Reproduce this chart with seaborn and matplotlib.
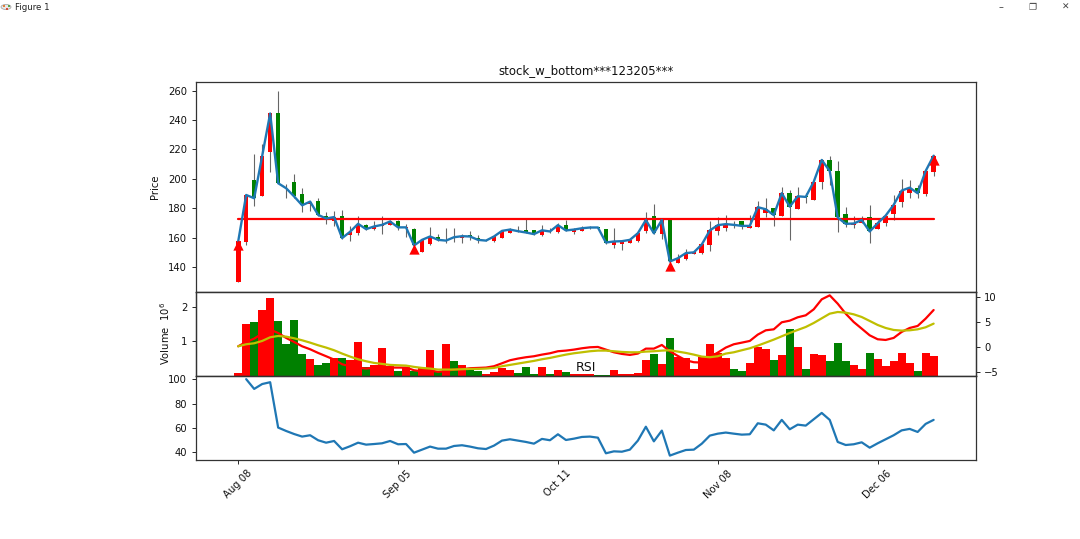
import numpy as np
import matplotlib
matplotlib.use("Agg")
import matplotlib.pyplot as plt
from matplotlib.patches import Circle, Rectangle
import seaborn as sns

title = "stock_w_bottom***123205***"
tick_positions = [0, 20, 40, 60, 80]
tick_labels = ["Aug 08", "Sep 05", "Oct 11", "Nov 08", "Dec 06"]

opens = [130,157,199,188.6,218,244.4,194,197.9,189.5,182.7,185,174.8,171.2,175,161.5,163,168.5,166,168,168.7,
         171.6,166.4,166,150.2,156,160.3,158,160,160,161.5,160,158,157.4,160.1,163,164.7,165,165,162,164.7,
         163.8,168.5,164,164.6,166.4,167.3,166.2,154.7,156,156.3,157.4,164.2,174.8,162.6,172,143,145.2,149,149.5,155.2,
         164.7,166.7,169.5,171.2,166.4,167.1,177,180.2,174.4,190.2,179.8,188.5,185.6,197.6,212.6,205.3,176.2,168.5,169.8,174.1,
         166,170.3,176.2,184.3,190.6,194,189.8,204.9]
closes = [157.4,189,186.8,215.5,244.4,197,193.6,188,182,184.5,175.5,173,174,159.7,164,169.4,165.8,167.6,168.7,171,
          167,167,154.7,158.5,160.8,158.5,158,160.3,161,160.8,158.5,158,160.8,164.6,165.5,164.4,163.5,162.4,165,164.2,
          168.5,164.9,165.5,166.4,166.9,166.9,156.7,157.4,157.6,158.5,163,172,163,172,143.8,146,149.5,150,155.4,164.9,
          168.5,169.2,168.7,168,168,180.7,179.3,175.3,190.2,181.1,188.1,187.7,198,212.8,205.3,173.7,169.4,169.6,172,164.2,
          169.8,175,182.3,192,194,190.2,205.3,215.7]
highs = [157.4,189,216.8,223.4,244.4,259.5,196.3,203,193.6,184.5,186.8,177.7,178.2,178.9,168.2,174.8,169.5,171.6,174.8,172,
         172,169.4,166.9,159,167,162.4,166.4,166.4,162.6,164.2,161.9,158.5,161,165.5,166.4,167.6,172.5,165,168.7,166.4,
         169.8,172,166.4,168.2,168.2,167.3,166.2,166.4,158.5,159,163.7,177.7,182.9,173,172,149,152.2,150.5,156.3,171.4,
         173.9,175.5,171.6,171.2,175.5,185.2,187,180.2,194.2,192.4,194.2,190.6,198,213.7,215.5,212.3,181.1,174.4,175,182.3,
         172,175.5,189,199.9,199.2,195.5,206,216]
lows = [130,155,181.6,188.6,204.4,197,186.8,187.2,177.3,178.4,175,169.4,167.6,159.2,158,162,165.4,165,162.6,168.4,
        165.4,160.3,154.7,150.2,155,157.8,156.7,157,156.3,158.2,156.3,157.4,157.2,160,163,163.9,163,161.7,161.2,163,
        163,164.2,162.8,164.2,166,166,155.8,153.3,151.8,156.3,157,163.5,162.4,159.2,143,142.8,144.5,148.8,149,151,
        161.5,164.6,166.4,166,166.4,167.1,173.9,168,174.4,158.5,179.8,183.8,185.6,192.8,195.6,164,167.2,166.4,169.8,156.3,
        166,167.6,172,180.5,186.8,186.8,188.4,201.9]
volumes = [0.07,1.52,1.56,1.92,2.27,1.61,0.93,1.64,0.62,0.48,0.31,0.36,0.51,0.50,0.46,0.98,0.26,0.32,0.81,0.29,
           0.14,0.24,0.12,0.22,0.74,0.09,0.94,0.44,0.31,0.17,0.12,0.04,0.09,0.22,0.17,0.07,0.24,0.05,0.26,0.04,
           0.17,0.11,0.05,0.05,0.03,0.01,0.01,0.17,0.05,0.03,0.07,0.46,0.64,0.34,1.09,0.55,0.50,0.20,0.53,0.94,
           0.66,0.52,0.19,0.14,0.36,0.85,0.79,0.46,0.60,1.38,0.85,0.20,0.64,0.60,0.44,0.96,0.44,0.31,0.19,0.66,
           0.48,0.27,0.44,0.66,0.37,0.14,0.67,0.57]
green_volume_days = [2,5,6,7,8,10,11,13,16,20,22,25,27,29,30,35,36,37,39,41,45,46,52,54,62,63,67,69,71,74,75,76,79,85]
macd = [0.13,1.0,1.68,2.69,3.5,2.82,1.82,1.0,0.13,-0.47,-1.21,-1.88,-2.56,-3.5,-3.9,-4.17,-4.37,-4.17,-4.17,-4.17,
        -4.17,-4.17,-4.71,-4.91,-4.71,-5.04,-4.84,-4.57,-4.5,-4.3,-4.24,-4.17,-3.9,-3.3,-2.69,-2.35,-2.08,-1.88,-1.55,-1.28,
        -0.87,-0.74,-0.54,-0.27,-0.07,0,-0.54,-1.08,-1.41,-1.61,-1.34,-0.34,-0.34,0.4,-0.87,-1.82,-2.69,-3.09,-3.16,-2.02,
        -1.14,-0.13,0.54,0.87,1.21,2.49,3.36,3.56,4.98,5.31,5.99,6.39,7.6,9.62,10.42,8.74,6.72,5.04,3.7,2.35,
        1.55,1.41,1.82,3.03,3.83,4.24,5.72,7.46]
signal = [0.13,0.54,0.74,1.21,1.95,2.22,2.08,1.75,1.34,0.87,0.34,-0.13,-0.67,-1.34,-1.95,-2.49,-2.89,-3.23,-3.43,-3.63,
          -3.7,-3.77,-4.03,-4.24,-4.37,-4.57,-4.57,-4.57,-4.5,-4.44,-4.44,-4.37,-4.24,-3.9,-3.63,-3.36,-3.09,-2.82,-2.49,-2.22,
          -1.88,-1.55,-1.28,-1.08,-0.87,-0.74,-0.74,-0.87,-1.01,-1.08,-1.08,-0.94,-0.87,-0.74,-0.67,-0.94,-1.21,-1.55,-1.95,-2.08,
          -1.88,-1.34,-1.08,-0.67,-0.27,0.27,0.87,1.48,2.15,2.82,3.43,4.03,4.84,5.78,6.72,7.06,6.93,6.59,6.05,5.25,
          4.44,3.83,3.43,3.3,3.36,3.56,3.97,4.71]
rsi = [100,92,96,97.5,60.3,57.5,55,52.9,54,49.9,47.9,49.3,42.5,45,47.9,46.3,46.8,47.4,49.3,46.6,
       46.8,39.7,42.2,44.7,43,43,45.2,45.8,44.7,43.3,42.7,45.5,49.6,50.7,49.6,48.5,47.1,51,49.9,54.8,
       50.1,51.2,52.6,52.9,52,39.2,40.8,40.5,42.2,49.6,61,49,57.8,37.3,39.7,41.9,42.2,47.1,53.7,55.3,
       56.2,55.3,54.5,54.8,63.8,62.7,58,66.6,58.9,62.7,61.9,67.1,72.3,66.6,48.5,46,46.6,48.2,43.8,47.4,
       50.7,54,58,59.2,56.7,63.3,66.6]
support_level = 172.8
signal_days = [0, 22, 54, 87]
signal_prices = [155, 152.4, 141, 213]

W, H = 1080, 539
LEFT, RIGHT = 195.5 / W, 976 / W


def axes_box(top, bottom):
    return [LEFT, 1 - bottom / H, RIGHT - LEFT, (bottom - top) / H]


sns.set_theme(style="ticks", rc={"axes.linewidth": 0.9, "axes.edgecolor": "#333333",
                                 "xtick.major.width": 0.7, "ytick.major.width": 0.7,
                                 "xtick.major.size": 3, "ytick.major.size": 3,
                                 "text.color": "#111111", "xtick.labelcolor": "#111111",
                                 "ytick.labelcolor": "#111111", "axes.labelcolor": "#111111"})
plt.rcParams["font.family"] = ["DejaVu Sans"]
FS = 7.2
OLIVE = "#bfbf00"

fig = plt.figure(figsize=(W / 100, H / 100), dpi=100)
ax1 = fig.add_axes(axes_box(82, 291.5))
ax2 = fig.add_axes(axes_box(291.5, 375.5), sharex=ax1)
ax3 = fig.add_axes(axes_box(375.5, 460), sharex=ax1)
ax2b = ax2.twinx()

days = np.arange(len(closes))

# price panel
op, cl = np.array(opens), np.array(closes)
candle_colors = ["red" if c >= o else "green" for o, c in zip(op, cl)]
ax1.vlines(days, lows, highs, color="black", lw=0.8, alpha=0.6, zorder=1)
ax1.bar(days, np.abs(cl - op), bottom=np.minimum(op, cl), width=0.58, color=candle_colors, linewidth=0, zorder=2)
sns.lineplot(x=days, y=closes, ax=ax1, color="#1f77b4", lw=1.7, errorbar=None, zorder=4)
sns.lineplot(x=[days[0], days[-1]], y=[support_level, support_level], ax=ax1, color="red", lw=1.6,
             errorbar=None, zorder=3)
sns.scatterplot(x=signal_days, y=signal_prices, ax=ax1, marker="^", color="red", s=55, linewidth=0, zorder=5)
ax1.set_ylim(123.4, 265.8)
ax1.set_yticks(range(140, 261, 20))
ax1.set_ylabel("Price", fontsize=FS)
ax1.yaxis.set_label_coords(-0.0455, 0.5)
ax1.set_title(title, fontsize=8.5, pad=5.5)
ax1.tick_params(axis="x", bottom=False, labelbottom=False)
ax1.tick_params(axis="y", labelsize=FS, pad=3)

# volume and MACD panel
direction = ["down" if i in green_volume_days else "up" for i in days]
sns.barplot(x=days, y=volumes, hue=direction, palette={"up": "red", "down": "green"}, native_scale=True,
            dodge=False, width=1.0, saturation=1, linewidth=0, legend=False, ax=ax2)
ax2.set_ylim(0, 2.47)
ax2.set_yticks([1, 2])
ax2.set_ylabel("Volume  $10^6$", fontsize=FS)
ax2.yaxis.set_label_coords(-0.030, 0.5)
ax2.set_xlabel("")
ax2.tick_params(axis="x", bottom=False, labelbottom=False)
ax2.tick_params(axis="y", labelsize=FS, pad=3)

sns.lineplot(x=days, y=macd, ax=ax2b, color="red", lw=1.6, errorbar=None)
sns.lineplot(x=days, y=signal, ax=ax2b, color=OLIVE, lw=1.6, errorbar=None)
ax2b.set_ylim(-5.77, 11.2)
ax2b.set_yticks([-5, 0, 5, 10])
ax2b.set_yticklabels(["\u22125", "0", "5", "10"])
ax2b.tick_params(axis="y", labelsize=FS, pad=3)
ax2b.set_ylabel("")

# RSI panel
sns.lineplot(x=days[1:], y=rsi, ax=ax3, color="#1f77b4", lw=1.6, errorbar=None)
ax3.set_ylim(33.7, 103)
ax3.set_yticks([40, 60, 80, 100])
ax3.set_title("RSI", fontsize=9, pad=3)
ax3.set_xticks(tick_positions)
ax3.set_xticklabels(tick_labels, rotation=45, fontsize=FS, ha="center")
ax3.tick_params(axis="y", labelsize=FS, pad=3)
ax3.tick_params(axis="x", pad=3)
ax3.set_xlim(-5.34, 92.3)

# window chrome of the captured screenshot
fig.patches.append(Circle((6 / W, 1 - 7 / H), 5 / W, transform=fig.transFigure, facecolor="#e8e8e8",
                          edgecolor="#999999", linewidth=0.5))
fig.patches[-1].set_figure(fig)
for (px, py, col) in [(3, 5, "#e0803a"), (6, 8, "#d9503a"), (8, 5, "#5aa34a")]:
    r = Rectangle((px / W, 1 - (py + 2) / H), 2 / W, 2 / H, transform=fig.transFigure, facecolor=col, linewidth=0)
    r.set_figure(fig)
    fig.patches.append(r)
fig.text(15 / W, 1 - 8 / H, "Figure 1", fontsize=6.2, va="center", ha="left", color="#222222")
fig.text(1001 / W, 1 - 7 / H, "\u2013", fontsize=7, va="center", ha="center", color="#444444")
fig.text(1033 / W, 1 - 8 / H, "\u2750", fontsize=6.5, va="center", ha="center", color="#444444")
fig.text(1066 / W, 1 - 7 / H, "\u2715", fontsize=6.5, va="center", ha="center", color="#444444")

fig.savefig("out.png", dpi=100)
